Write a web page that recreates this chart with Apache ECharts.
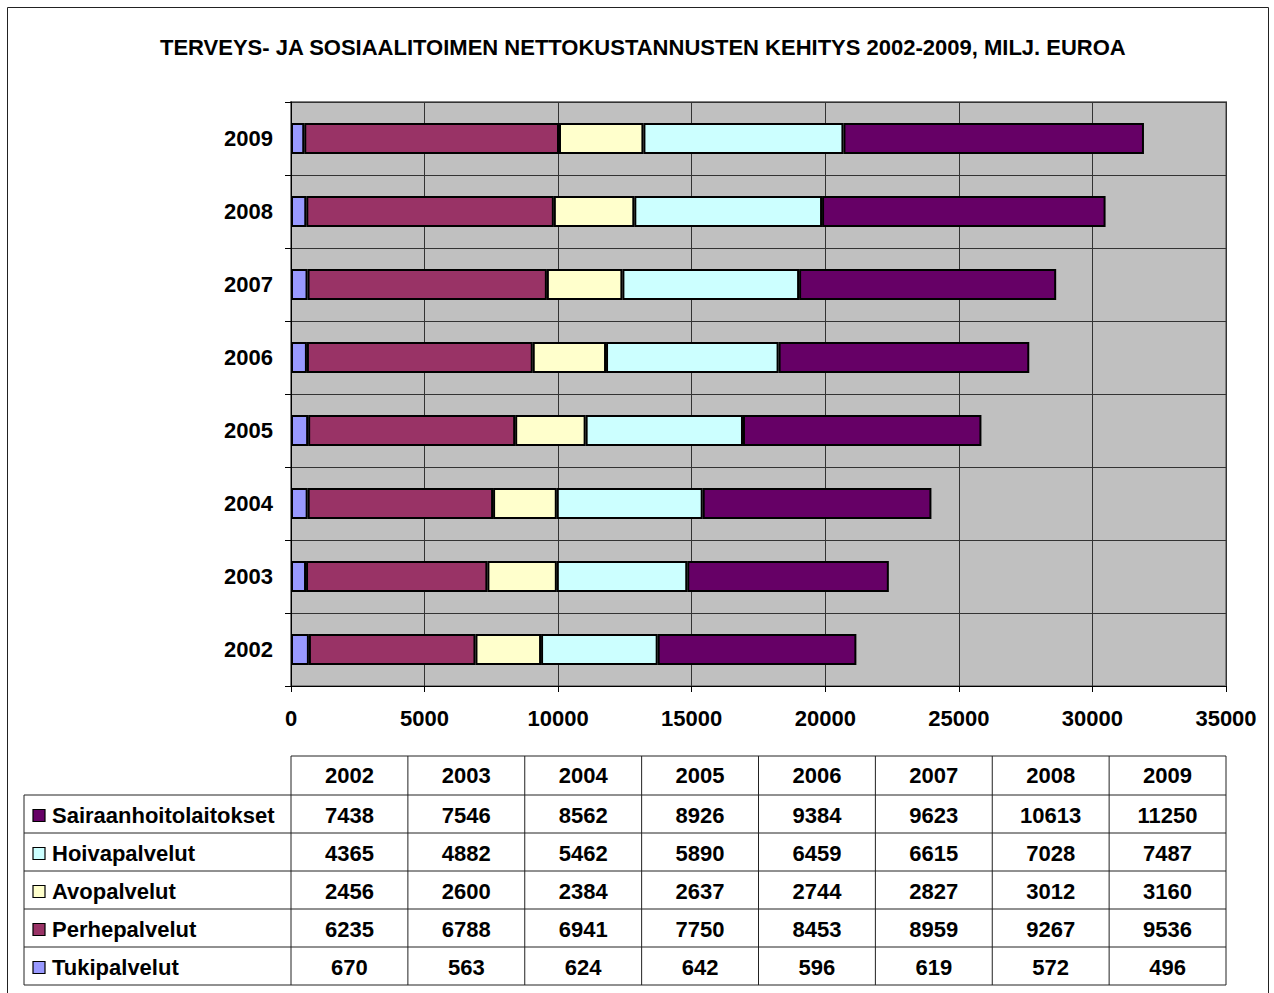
<!DOCTYPE html>
<html>
<head>
<meta charset="utf-8">
<script src="https://cdn.jsdelivr.net/npm/echarts@6/dist/echarts.min.js"></script>
<style>
  html, body { margin: 0; padding: 0; background: #fff; }
  #chart { width: 1274px; height: 993px; }
</style>
</head>
<body>
<div id="chart"></div>
<script>
// data
const years = ['2002', '2003', '2004', '2005', '2006', '2007', '2008', '2009'];
const tukipalvelut = [670, 563, 624, 642, 596, 619, 572, 496];
const perhepalvelut = [6235, 6788, 6941, 7750, 8453, 8959, 9267, 9536];
const avopalvelut = [2456, 2600, 2384, 2637, 2744, 2827, 3012, 3160];
const hoivapalvelut = [4365, 4882, 5462, 5890, 6459, 6615, 7028, 7487];
const sairaanhoito = [7438, 7546, 8562, 8926, 9384, 9623, 10613, 11250];
const xTicks = [0, 5000, 10000, 15000, 20000, 25000, 30000, 35000];

const FONT = '"Liberation Sans", Arial, sans-serif';
const FS = 22;

// plot area
const gLeft = 291, gRight = 1226, gTop = 102, gBottom = 686;

const seriesDefs = [
  { name: 'Tukipalvelut', data: tukipalvelut, color: '#9999ff' },
  { name: 'Perhepalvelut', data: perhepalvelut, color: '#993366' },
  { name: 'Avopalvelut', data: avopalvelut, color: '#ffffcc' },
  { name: 'Hoivapalvelut', data: hoivapalvelut, color: '#ccffff' },
  { name: 'Sairaanhoitolaitokset', data: sairaanhoito, color: '#660066' }
];

const chart = echarts.init(document.getElementById('chart'), null, { renderer: 'svg' });

// data table under the chart, built from the same arrays
function buildTable() {
  const els = [];
  const colW = (gRight - gLeft) / years.length;
  const tableLeft = 24;
  const headTop = 756, headBottom = 795;
  const rowH = 38;
  const rows = seriesDefs.slice().reverse();
  const tableBottom = headBottom + rowH * rows.length;
  const font = 'bold ' + FS + 'px ' + FONT;
  const line = (x1, y1, x2, y2) => ({
    type: 'line', shape: { x1, y1, x2, y2 },
    style: { stroke: '#222', lineWidth: 1 }, silent: true
  });

  // header row
  els.push(line(gLeft, headTop, gRight, headTop));
  years.forEach((y, i) => {
    els.push({
      type: 'text', x: gLeft + colW * (i + 0.5), y: (headTop + headBottom) / 2,
      style: { text: y, font, fill: '#000', align: 'center', verticalAlign: 'middle' }
    });
  });
  // vertical lines
  for (let i = 0; i <= years.length; i++) {
    const x = gLeft + colW * i;
    els.push(line(x, headTop, x, tableBottom));
  }
  els.push(line(tableLeft, headBottom, tableLeft, tableBottom));
  // rows
  rows.forEach((s, r) => {
    const top = headBottom + rowH * r;
    const mid = top + rowH / 2 + 1;
    els.push(line(tableLeft, top, gRight, top));
    els.push({
      type: 'rect', shape: { x: 33, y: mid - 5.5, width: 12, height: 12 },
      style: { fill: s.color, stroke: '#000', lineWidth: 1.2 }
    });
    els.push({
      type: 'text', x: 52, y: mid,
      style: { text: s.name, font, fill: '#000', align: 'left', verticalAlign: 'middle' }
    });
    s.data.forEach((v, i) => {
      els.push({
        type: 'text', x: gLeft + colW * (i + 0.5), y: mid,
        style: { text: String(v), font, fill: '#000', align: 'center', verticalAlign: 'middle' }
      });
    });
  });
  els.push(line(tableLeft, tableBottom, gRight, tableBottom));
  return els;
}

const option = {
  animation: false,
  backgroundColor: '#fff',
  title: {
    text: 'TERVEYS- JA SOSIAALITOIMEN NETTOKUSTANNUSTEN KEHITYS 2002-2009, MILJ. EUROA',
    left: 155,
    top: 31,
    textStyle: { fontFamily: FONT, fontSize: 22, fontWeight: 'bold', color: '#000' }
  },
  grid: {
    left: gLeft, right: 1274 - gRight, top: gTop, bottom: 993 - gBottom,
    show: true, backgroundColor: '#c0c0c0', borderColor: '#808080', borderWidth: 2
  },
  xAxis: {
    type: 'value',
    min: 0, max: 35000, interval: 5000,
    axisLine: { show: true, lineStyle: { color: '#000', width: 1 } },
    axisTick: { show: true, length: 6, lineStyle: { color: '#000' } },
    splitLine: { show: true, lineStyle: { color: '#333', width: 1 } },
    axisLabel: {
      margin: 21,
      fontFamily: FONT, fontSize: FS, fontWeight: 'bold', color: '#000',
      formatter: v => xTicks.indexOf(v) >= 0 ? String(v) : ''
    }
  },
  yAxis: {
    type: 'category',
    data: years,
    axisLine: { show: true, lineStyle: { color: '#000', width: 1 } },
    axisTick: { show: true, length: 6, lineStyle: { color: '#000' } },
    splitLine: { show: true, lineStyle: { color: '#333', width: 1 } },
    axisLabel: {
      margin: 18,
      fontFamily: FONT, fontSize: FS, fontWeight: 'bold', color: '#000'
    }
  },
  series: seriesDefs.map(s => ({
    name: s.name,
    type: 'bar',
    stack: 'total',
    barWidth: 31,
    data: s.data,
    itemStyle: { color: s.color, borderColor: '#000', borderWidth: 2 }
  })),
  graphic: [
    {
      type: 'rect', shape: { x: 7.5, y: 7.5, width: 1261, height: 1000 },
      style: { fill: 'none', stroke: '#222', lineWidth: 1 }, silent: true, z: -1
    }
  ].concat(buildTable())
};

chart.setOption(option);
</script>
</body>
</html>
